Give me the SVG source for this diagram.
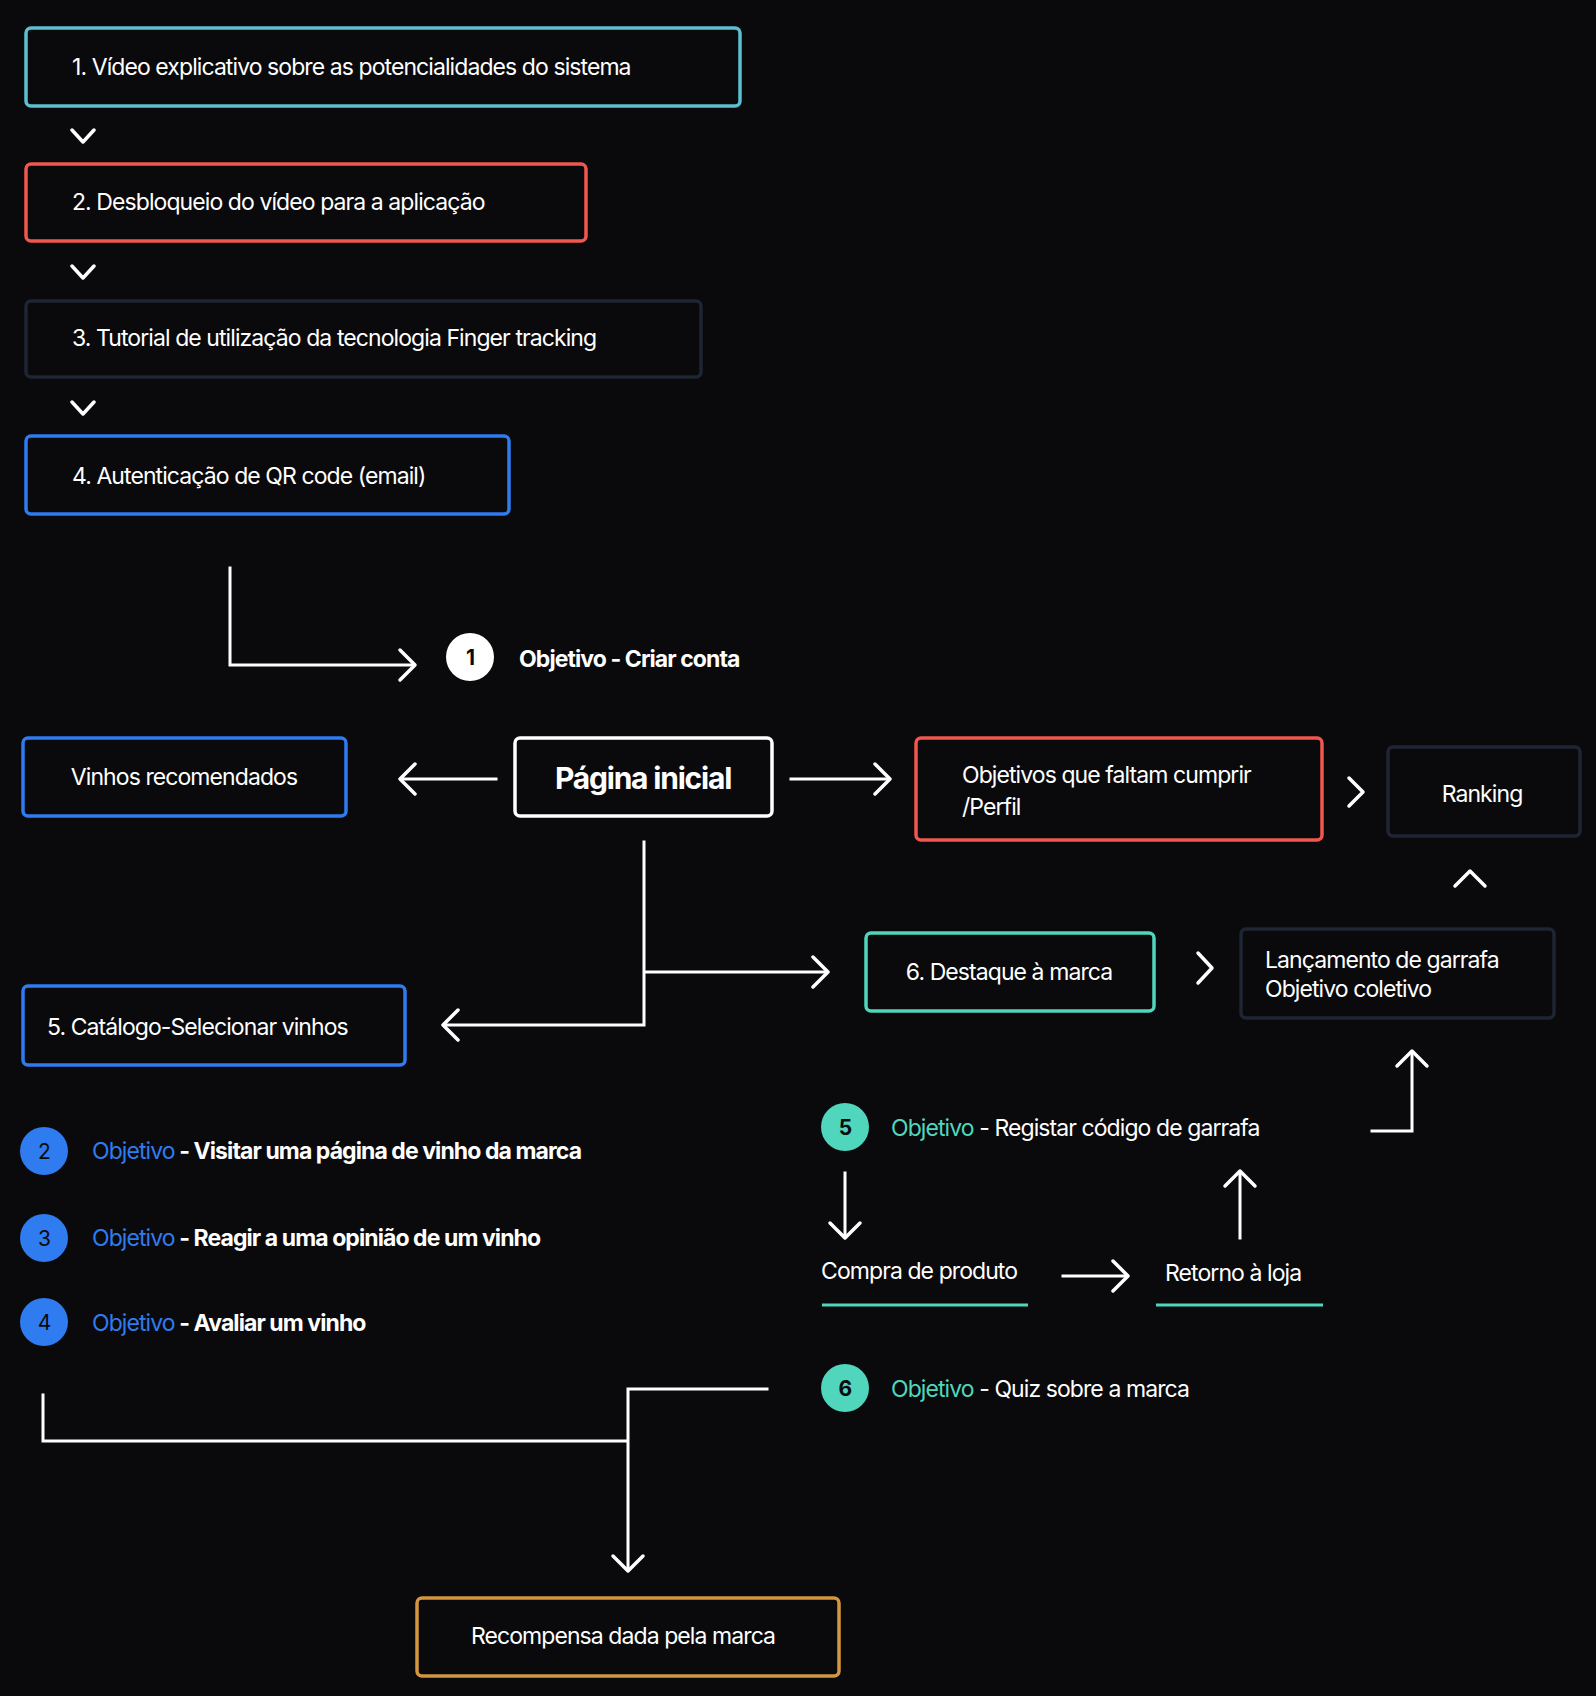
<svg xmlns="http://www.w3.org/2000/svg" width="1596" height="1696" viewBox="0 0 1596 1696">
<style>
text{font-family:Inter,"Liberation Sans",sans-serif;fill:#fff;letter-spacing:-0.04em;}
.t{font-size:23px;}
.b{font-weight:700;}
.box{fill:#0a0a0c;stroke-width:3.5;}
.ln{fill:none;stroke:#fff;stroke-width:3;stroke-linecap:square;}
.ch{fill:none;stroke:#fff;stroke-width:3.5;stroke-linecap:round;stroke-linejoin:round;}
.blue{fill:#2f7bf0}.teal{fill:#4fd6bd}
</style>
<rect width="1596" height="1696" fill="#0a0a0c"/>
<g id="n1"><rect class="box" x="26" y="28" width="714" height="78" rx="5" stroke="#5bc0d0"/><text class="t" x="72" y="75">1. Vídeo explicativo sobre as potencialidades do sistema</text></g>
<g id="n2"><rect class="box" x="26" y="164" width="560" height="77" rx="5" stroke="#f0584f"/><text class="t" x="72" y="210">2. Desbloqueio do vídeo para a aplicação</text></g>
<g id="n3"><rect class="box" x="26" y="301" width="675" height="76" rx="5" stroke="#1e2633"/><text class="t" x="72" y="346">3. Tutorial de utilização da tecnologia Finger tracking</text></g>
<g id="n4"><rect class="box" x="26" y="436" width="483" height="78" rx="5" stroke="#2f7bf0"/><text class="t" x="72" y="484">4. Autenticação de QR code (email)</text></g>
<g id="o1"><circle cx="470" cy="657" r="24" fill="#fff"/><text x="470" y="665" font-size="21" text-anchor="middle" class="b" style="fill:#0a0a0c">1</text><text class="t b" x="519" y="667" font-size="24">Objetivo - Criar conta</text></g>
<g id="vinhos"><rect class="box" x="23" y="738" width="323" height="78" rx="5" stroke="#2f7bf0"/><text class="t" x="184" y="785" text-anchor="middle">Vinhos recomendados</text></g>
<g id="pagina"><rect class="box" x="515" y="738" width="257" height="78" rx="5" stroke="#fff"/><text class="b" x="643" y="789" font-size="30" text-anchor="middle">Página inicial</text></g>
<g id="objetivos"><rect class="box" x="916" y="738" width="406" height="102" rx="5" stroke="#f0584f"/><text class="t" x="962" y="783">Objetivos que faltam cumprir</text><text class="t" x="962" y="815">/Perfil</text></g>
<g id="ranking"><rect class="box" x="1388" y="747" width="192" height="89" rx="5" stroke="#1e2633"/><text class="t" x="1482" y="802" text-anchor="middle">Ranking</text></g>
<g id="destaque"><rect class="box" x="866" y="933" width="288" height="78" rx="5" stroke="#4fd6bd"/><text class="t" x="1009" y="980" text-anchor="middle">6. Destaque à marca</text></g>
<g id="lancamento"><rect class="box" x="1241" y="929" width="313" height="89" rx="5" stroke="#1e2633"/><text class="t" x="1265" y="968">Lançamento de garrafa</text><text class="t" x="1265" y="997">Objetivo coletivo</text></g>
<g id="catalogo"><rect class="box" x="23" y="986" width="382" height="79" rx="5" stroke="#2f7bf0"/><text class="t" x="47" y="1035">5. Catálogo-Selecionar vinhos</text></g>
<g id="o2"><circle class="blue" cx="44" cy="1151" r="24"/><text x="44" y="1159" font-size="21" text-anchor="middle" style="fill:#0a0a0c">2</text><text class="t b" x="92" y="1159" font-size="24"><tspan style="fill:#2f7bf0;font-weight:400">Objetivo</tspan> - Visitar uma página de vinho da marca</text></g>
<g id="o3"><circle class="blue" cx="44" cy="1238" r="24"/><text x="44" y="1246" font-size="21" text-anchor="middle" style="fill:#0a0a0c">3</text><text class="t b" x="92" y="1246" font-size="24"><tspan style="fill:#2f7bf0;font-weight:400">Objetivo</tspan> - Reagir a uma opinião de um vinho</text></g>
<g id="o4"><circle class="blue" cx="44" cy="1322" r="24"/><text x="44" y="1330" font-size="21" text-anchor="middle" style="fill:#0a0a0c">4</text><text class="t b" x="92" y="1331" font-size="24"><tspan style="fill:#2f7bf0;font-weight:400">Objetivo</tspan> - Avaliar um vinho</text></g>
<g id="o5"><circle class="teal" cx="845" cy="1127" r="24"/><text x="845" y="1135" font-size="21" text-anchor="middle" class="b" style="fill:#0a0a0c">5</text><text class="t" x="891" y="1136" font-size="24"><tspan style="fill:#4fd6bd">Objetivo</tspan> - Registar código de garrafa</text></g>
<g id="compra"><text class="t" x="821" y="1279">Compra de produto</text><line x1="822" y1="1305" x2="1028" y2="1305" stroke="#4fd6bd" stroke-width="3"/></g>
<g id="retorno"><text class="t" x="1165" y="1281">Retorno à loja</text><line x1="1156" y1="1305" x2="1323" y2="1305" stroke="#4fd6bd" stroke-width="3"/></g>
<g id="o6"><circle class="teal" cx="845" cy="1388" r="24"/><text x="845" y="1396" font-size="21" text-anchor="middle" class="b" style="fill:#0a0a0c">6</text><text class="t" x="891" y="1397" font-size="24"><tspan style="fill:#4fd6bd">Objetivo</tspan> - Quiz sobre a marca</text></g>
<g id="recompensa"><rect class="box" x="417" y="1598" width="422" height="78" rx="5" stroke="#d4963e"/><text class="t" x="623" y="1644" text-anchor="middle">Recompensa dada pela marca</text></g>
<g id="connectors">
<path class="ch" d="M72 130l11 12l11-12M72 266l11 12l11-12M72 402l11 12l11-12"/>
<path class="ln" d="M230 568V665H413"/><path class="ch" d="M400 650l15 15l-15 15"/>
<path class="ln" d="M496 779H402"/><path class="ch" d="M415 764l-15 15l15 15"/>
<path class="ln" d="M791 779H888"/><path class="ch" d="M875 764l15 15l-15 15"/>
<path class="ch" d="M1349 778l14 14l-14 14"/>
<path class="ch" d="M1455 886l15-15l15 15"/>
<path class="ln" d="M644 842V1025H445M644 972H826"/><path class="ch" d="M458 1010l-15 15l15 15M813 957l15 15l-15 15"/>
<path class="ch" d="M1198 953l14 15l-14 15"/>
<path class="ln" d="M1372 1131H1412V1053"/><path class="ch" d="M1397 1066l15-15l15 15"/>
<path class="ln" d="M845 1173V1236"/><path class="ch" d="M830 1223l15 15l15-15"/>
<path class="ln" d="M1240 1238V1173"/><path class="ch" d="M1225 1186l15-15l15 15"/>
<path class="ln" d="M1063 1276H1126"/><path class="ch" d="M1113 1261l15 15l-15 15"/>
<path class="ln" d="M767 1389H628V1569M43 1395V1441H628"/><path class="ch" d="M613 1556l15 15l15-15"/>
</g>
</svg>
